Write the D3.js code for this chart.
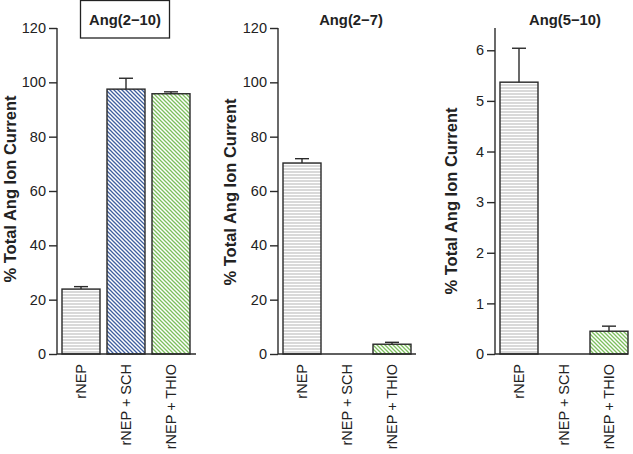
<!DOCTYPE html>
<html><head><meta charset="utf-8">
<script src="https://cdn.jsdelivr.net/npm/d3@7"></script>
<style>body{margin:0;background:#fff}svg{display:block}text{font-family:"Liberation Sans",Arial,sans-serif}</style>
</head><body><svg id="c" width="633" height="454"></svg>
<script>
const categories = ["rNEP", "rNEP + SCH", "rNEP + THIO"];
const titles = ["Ang(2\u221210)", "Ang(2\u22127)", "Ang(5\u221210)"];
const values1 = [23.9, 97.5, 95.8];
const errors1 = [0.9, 4.0, 0.7];
const values2 = [70.3, 0, 3.6];
const errors2 = [1.6, 0, 0.7];
const values3 = [5.37, 0, 0.45];
const errors3 = [0.67, 0, 0.1];
const ticks1 = [0, 20, 40, 60, 80, 100, 120];
const ticks2 = [0, 20, 40, 60, 80, 100, 120];
const ticks3 = [0, 1, 2, 3, 4, 5, 6];
const yLabel = "% Total Ang Ion Current";

(function(){
const svg = d3.select("#c");
const defs = svg.append("defs");
const pH = defs.append("pattern").attr("id","pH").attr("patternUnits","userSpaceOnUse").attr("width",4).attr("height",3);
pH.append("rect").attr("width",4).attr("height",3).attr("fill","#fff");
pH.append("line").attr("x1",0).attr("x2",4).attr("y1",1).attr("y2",1).attr("stroke","#b4b4b4").attr("stroke-width",1);
function diag(id, col){
  const p = defs.append("pattern").attr("id",id).attr("patternUnits","userSpaceOnUse").attr("width",4).attr("height",4);
  p.append("rect").attr("width",4).attr("height",4).attr("fill","#fff");
  p.append("path").attr("d","M-1,-1 L5,5 M-1,3 L1,5 M3,-1 L5,1").attr("stroke",col).attr("stroke-width",1.3);
}
diag("pB","#3f5f9f");
diag("pG","#7dbf5e");
const fills = ["url(#pH)","url(#pB)","url(#pG)"];

const yTop = 28, yBot = 354;
const panels = [
  {ax:57, end:196, vals:values1, errs:errors1, ticks:ticks1, max:120, title:titles[0], box:true, tx:125, lx:10, ly:189},
  {ax:278, end:416, vals:values2, errs:errors2, ticks:ticks2, max:120, title:titles[1], box:false, tx:351, lx:230, ly:192},
  {ax:495, end:628, vals:values3, errs:errors3, ticks:ticks3, max:6.44, title:titles[2], box:false, tx:565, lx:451, ly:201}
];
const dark = "#2a2a2a";
panels.forEach(p => {
  const g = svg.append("g");
  const y = d3.scaleLinear().domain([0, p.max]).range([yBot, yTop]);
  const x = d3.scaleBand().domain(categories).range([p.ax + 1.5, p.ax + 136.5]).paddingInner(7/45).paddingOuter(3.5/45);
  g.selectAll("rect.bar").data(categories).enter().append("rect")
    .attr("x", d => x(d)).attr("width", x.bandwidth())
    .attr("y", (d,i) => y(p.vals[i])).attr("height", (d,i) => yBot - y(p.vals[i]))
    .attr("fill", (d,i) => fills[i])
    .attr("stroke", (d,i) => p.vals[i] > 0 ? dark : "none").attr("stroke-width", 1.4);
  categories.forEach((c,i) => {
    if (p.vals[i] <= 0) return;
    const cx = x(c) + x.bandwidth()/2;
    g.append("line").attr("x1",cx).attr("x2",cx).attr("y1",y(p.vals[i])).attr("y2",y(p.vals[i]+p.errs[i])).attr("stroke",dark).attr("stroke-width",1.4);
    g.append("line").attr("x1",cx-7).attr("x2",cx+7).attr("y1",y(p.vals[i]+p.errs[i])).attr("y2",y(p.vals[i]+p.errs[i])).attr("stroke",dark).attr("stroke-width",1.4);
  });
  const yAxis = d3.axisLeft(y).tickValues(p.ticks).tickFormat(d3.format("d")).tickSize(8).tickPadding(3).tickSizeOuter(0);
  const ya = g.append("g").attr("transform",`translate(${p.ax},0)`).call(yAxis);
  ya.select(".domain").attr("stroke",dark).attr("stroke-width",1.4).attr("d",`M0,${yTop}V${yBot}`);
  ya.selectAll(".tick line").attr("stroke",dark).attr("stroke-width",1.4);
  ya.selectAll(".tick text").attr("font-size",14.5).attr("fill","#222").attr("font-family","Liberation Sans, Arial, sans-serif");
  g.append("line").attr("x1",p.ax).attr("x2",p.end).attr("y1",yBot).attr("y2",yBot).attr("stroke",dark).attr("stroke-width",1.4);
  categories.forEach(c => {
    const cx = x(c) + x.bandwidth()/2;
    g.append("text").attr("transform",`translate(${cx+5},${yBot+10}) rotate(-90)`)
      .attr("text-anchor","end").attr("font-size",14.5).attr("fill","#222").text(c);
  });
  g.append("text").attr("transform",`translate(${p.lx+6},${p.ly}) rotate(-90)`)
    .attr("text-anchor","middle").attr("font-size",16.5).attr("font-weight","bold").attr("fill","#222").text(yLabel);
  if (p.box) g.append("rect").attr("x",80.5).attr("y",0.5).attr("width",89).attr("height",37.5).attr("fill","none").attr("stroke","#222").attr("stroke-width",1.3);
  g.append("text").attr("x",p.tx).attr("y",25).attr("text-anchor","middle").attr("font-size",14.8).attr("font-weight","bold").attr("fill","#222").text(p.title);
});
})();
</script></body></html>
